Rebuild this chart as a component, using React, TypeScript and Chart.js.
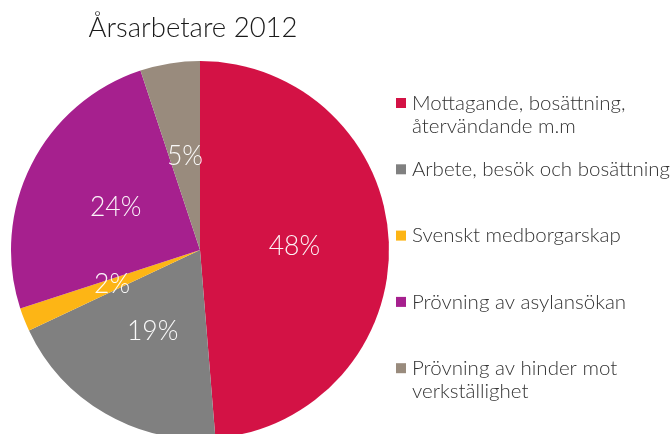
import React, { useEffect, useRef } from "react";
import { Chart, registerables } from "chart.js";

Chart.register(...registerables);

const titleText = "Årsarbetare 2012";
const categories: string[][] = [
  ["Mottagande, bosättning,", "återvändande m.m"],
  ["Arbete, besök och bosättning"],
  ["Svenskt medborgarskap"],
  ["Prövning av asylansökan"],
  ["Prövning av hinder mot", "verkställighet"],
];
const shares = [48.7, 19.3, 2.0, 24.9, 5.1];
const pctLabels = ["48%", "19%", "2%", "24%", "5%"];
const colors = ["#D31245", "#808080", "#FDB515", "#A6208E", "#998B7D"];

const FONT = "Lato, 'Open Sans', sans-serif";

const overlayPlugin = {
  id: "overlay",
  afterDatasetsDraw(chart: any) {
    const ctx = chart.ctx as CanvasRenderingContext2D;
    const meta = chart.getDatasetMeta(0);
    ctx.save();
    // percentage labels
    ctx.fillStyle = "rgba(255,255,255,0.95)";
    ctx.font = `300 26.5px ${FONT}`;
    ctx.textAlign = "center";
    ctx.textBaseline = "middle";
    meta.data.forEach((arc: any, i: number) => {
      const p = arc.getProps(["x", "y", "startAngle", "endAngle", "outerRadius"], true);
      const mid = (p.startAngle + p.endAngle) / 2;
      const r = p.outerRadius * 0.5;
      ctx.fillText(pctLabels[i], p.x + Math.cos(mid) * r, p.y + Math.sin(mid) * r);
    });
    // title
    ctx.fillStyle = "#1a1a1a";
    ctx.font = `300 27.5px ${FONT}`;
    ctx.textAlign = "center";
    ctx.textBaseline = "alphabetic";
    ctx.fillText(titleText, 193, 37);
    // legend
    ctx.textAlign = "left";
    ctx.font = `300 20.5px ${FONT}`;
    const startY = 103;
    const step = 66.3;
    categories.forEach((lines, i) => {
      const cy = startY + i * step;
      ctx.fillStyle = colors[i];
      ctx.fillRect(396, cy - 5, 10, 10);
      ctx.fillStyle = "#333333";
      lines.forEach((ln, j) => {
        ctx.textBaseline = "middle";
        ctx.fillText(ln, 412, cy + j * 23.5);
      });
    });
    ctx.restore();
  },
};

export default function App() {
  const ref = useRef<HTMLCanvasElement | null>(null);
  useEffect(() => {
    if (!ref.current) return;
    const chart = new Chart(ref.current, {
      type: "pie",
      data: {
        labels: categories.map((c) => c.join(" ")),
        datasets: [
          {
            data: shares,
            backgroundColor: colors,
            borderWidth: 0,
          },
        ],
      },
      options: {
        animation: false,
        responsive: false,
        maintainAspectRatio: false,
        layout: { padding: { left: 11, top: 61, right: 283, bottom: 21 } },
        plugins: {
          legend: { display: false },
          title: { display: false },
          tooltip: { enabled: false },
        },
      },
      plugins: [overlayPlugin],
    });
    return () => chart.destroy();
  }, []);
  return (
    <div style={{ position: "absolute", left: 0, top: 0, width: 672, height: 434, overflow: "hidden", background: "#fff" }}>
      <canvas ref={ref} width={672} height={460} style={{ display: "block", width: 672, height: 460 }} />
    </div>
  );
}
